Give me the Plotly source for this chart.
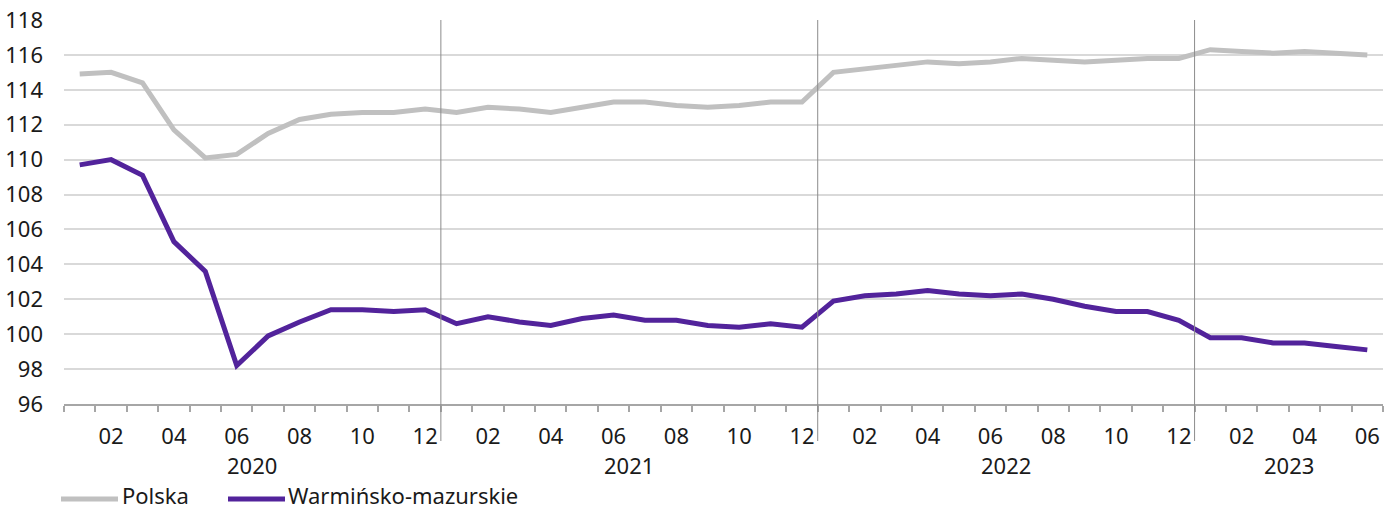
import plotly.graph_objects as go

months = ["01", "02", "03", "04", "05", "06", "07", "08", "09", "10", "11", "12"] * 3 + ["01", "02", "03", "04", "05", "06"]
years = ["2020", "2021", "2022", "2023"]
series_names = ["Polska", "Warmińsko-mazurskie"]
polska = [114.9, 115.0, 114.4, 111.7, 110.1, 110.3, 111.5, 112.3, 112.6, 112.7, 112.7, 112.9,
          112.7, 113.0, 112.9, 112.7, 113.0, 113.3, 113.3, 113.1, 113.0, 113.1, 113.3, 113.3,
          115.0, 115.2, 115.4, 115.6, 115.5, 115.6, 115.8, 115.7, 115.6, 115.7, 115.8, 115.8,
          116.3, 116.2, 116.1, 116.2, 116.1, 116.0]
warminsko = [109.7, 110.0, 109.1, 105.3, 103.6, 98.2, 99.9, 100.7, 101.4, 101.4, 101.3, 101.4,
             100.6, 101.0, 100.7, 100.5, 100.9, 101.1, 100.8, 100.8, 100.5, 100.4, 100.6, 100.4,
             101.9, 102.2, 102.3, 102.5, 102.3, 102.2, 102.3, 102.0, 101.6, 101.3, 101.3, 100.8,
             99.8, 99.8, 99.5, 99.5, 99.3, 99.1]

colors = ["#c0c0c0", "#52239b"]
x = list(range(len(months)))
FONT = "Noto Sans"
TXT = "#1a1a1a"
FS = 22

W, H = 1386, 509
ML, MR, MT, MB = 64, 3, 20, 105
PW, PH = W - ML - MR, H - MT - MB


def px_x(p):
    return (p - ML) / PW


def px_y(p):
    return (H - MB - p) / PH


fig = go.Figure()
for name, vals, col in zip(series_names, [polska, warminsko], colors):
    fig.add_trace(go.Scatter(x=x, y=vals, name=name, mode="lines",
                             line=dict(color=col, width=5), showlegend=False))

tickvals = [i for i, m in enumerate(months) if int(m) % 2 == 0]
ticktext = [months[i] for i in tickvals]

# year separators
year_starts = [i for i, m in enumerate(months) if m == "01"]
for s in year_starts[1:]:
    fig.add_shape(type="line", xref="x", yref="paper", x0=s - 0.5, x1=s - 0.5,
                  y0=1, y1=px_y(441), line=dict(color="#8c8c8c", width=1))

# year labels
bounds = year_starts + [len(months)]
for k, yr in enumerate(years):
    c = (bounds[k] + bounds[k + 1] - 1) / 2
    fig.add_annotation(x=c, y=px_y(465), xref="x", yref="paper", text=yr, showarrow=False,
                       yanchor="middle", font=dict(family=FONT, size=FS, color=TXT))

# custom legend
leg = [(61, 118, 121), (228, 285, 287)]
for (x0, x1, tx), name, col in zip(leg, series_names, colors):
    fig.add_shape(type="line", xref="paper", yref="paper", x0=px_x(x0), x1=px_x(x1),
                  y0=px_y(499), y1=px_y(499), line=dict(color=col, width=5))
    fig.add_annotation(x=px_x(tx), y=px_y(495), xref="paper", yref="paper", text=name,
                       showarrow=False, xanchor="left", yanchor="middle", borderpad=0,
                       font=dict(family=FONT, size=FS, color=TXT))

fig.update_layout(
    width=W, height=H,
    margin=dict(l=ML, r=MR, t=MT, b=MB, autoexpand=False),
    paper_bgcolor="white", plot_bgcolor="white",
    font=dict(family=FONT, size=FS, color=TXT),
    showlegend=False,
)
fig.update_xaxes(
    range=[-0.5, len(months) - 0.5],
    tickmode="array", tickvals=tickvals, ticktext=ticktext,
    ticks="", showgrid=False, zeroline=False,
    showline=True, linecolor="#a6a6a6", linewidth=1.5,
    ticklabelstandoff=12,
    tickfont=dict(family=FONT, size=FS, color=TXT),
    minor=dict(tick0=-0.5, dtick=1, ticks="outside", ticklen=6, tickcolor="#a6a6a6",
               tickwidth=1.5, showgrid=False),
)
fig.update_yaxes(
    range=[96, 118], dtick=2, tick0=96,
    showgrid=True, gridcolor="#d9d9d9", gridwidth=1.5,
    zeroline=False, showline=False, ticks="",
    ticklabelstandoff=20,
    tickfont=dict(family=FONT, size=FS, color=TXT),
)

fig.write_html("out.html", config={"displayModeBar": False},
               post_script="document.body.style.margin='0px';document.body.style.overflow='hidden';")
